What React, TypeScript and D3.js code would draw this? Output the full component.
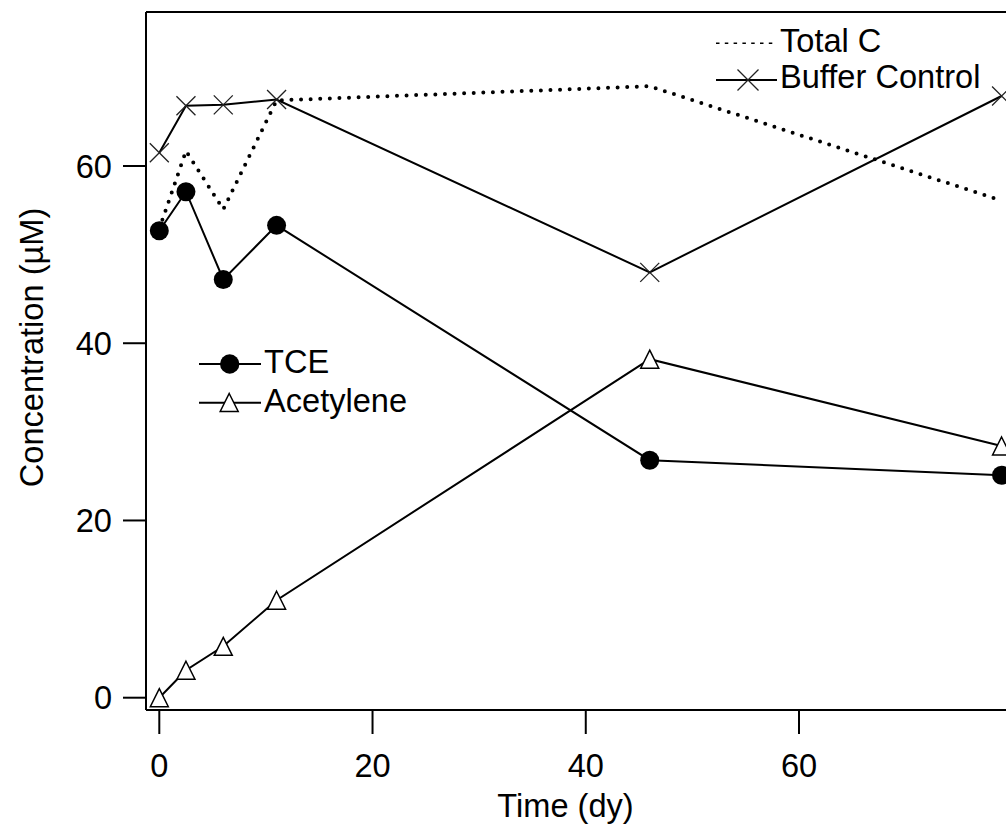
import React from "react";
import * as d3 from "d3";

const time = [0, 2.5, 6, 11, 46, 79];
const tce = [52.7, 57.1, 47.2, 53.3, 26.8, 25.1];
const acetylene = [0, 3.1, 5.8, 11.0, 38.2, 28.4];
const bufferControl = [61.5, 66.8, 66.9, 67.5, 48.0, 67.9];
const totalC = [52.9, 61.7, 55.1, 67.4, 69.0, 56.1];
const xTicks = [0, 20, 40, 60];
const yTicks = [0, 20, 40, 60];

const W = 1006;
const H = 824;
const FONT = "'Liberation Sans', Arial, Helvetica, sans-serif";
const FS = 32.6;

export default function App() {
  const x = d3.scaleLinear().domain([0, 60]).range([159.3, 799]);
  const y = d3.scaleLinear().domain([0, 60]).range([697.7, 166]);
  const left = 146;
  const top = 12;
  const bottom = 710;

  const line = d3
    .line<[number, number]>()
    .x((d) => x(d[0]))
    .y((d) => y(d[1]));
  const pts = (vals: number[]) => time.map((t, i) => [t, vals[i]] as [number, number]);

  const tri = (cx: number, cy: number, s = 9) =>
    `M${cx},${cy - s}L${cx + s},${cy + s}L${cx - s},${cy + s}Z`;
  const cross = (cx: number, cy: number, s = 10) =>
    `M${cx - s},${cy - s}L${cx + s},${cy + s}M${cx - s},${cy + s}L${cx + s},${cy - s}`;

  return (
    <svg
      width={W}
      height={H}
      style={{ position: "absolute", left: 0, top: 0, background: "#fff" }}
      fontFamily={FONT}
    >
      <rect x={0} y={0} width={W} height={H} fill="#fff" />
      {/* frame */}
      <line x1={left} y1={top} x2={W} y2={top} stroke="#000" strokeWidth={2} />
      <line x1={left} y1={top} x2={left} y2={bottom} stroke="#000" strokeWidth={2} />
      <line x1={left} y1={bottom} x2={W} y2={bottom} stroke="#000" strokeWidth={2} />

      {/* y ticks */}
      {yTicks.map((t) => (
        <g key={"y" + t}>
          <line x1={123} x2={left} y1={y(t)} y2={y(t)} stroke="#000" strokeWidth={2} />
          <text x={112} y={y(t) + 11.5} textAnchor="end" fontSize={FS} fill="#000">
            {t}
          </text>
        </g>
      ))}
      {/* x ticks */}
      {xTicks.map((t) => (
        <g key={"x" + t}>
          <line x1={x(t)} x2={x(t)} y1={bottom} y2={734} stroke="#000" strokeWidth={2} />
          <text x={x(t)} y={777} textAnchor="middle" fontSize={FS} fill="#000">
            {t}
          </text>
        </g>
      ))}

      {/* axis titles */}
      <text x={565.5} y={817} textAnchor="middle" fontSize={FS} fill="#000">
        Time (dy)
      </text>
      <text
        transform={`translate(43,347.5) rotate(-90)`}
        textAnchor="middle"
        fontSize={FS}
        fill="#000"
      >
        Concentration (µM)
      </text>

      {/* series lines */}
      <path d={line(pts(bufferControl)) || ""} fill="none" stroke="#000" strokeWidth={2} />
      <path d={line(pts(tce)) || ""} fill="none" stroke="#000" strokeWidth={2} />
      <path d={line(pts(acetylene)) || ""} fill="none" stroke="#000" strokeWidth={2} />
      <path
        d={line(pts(totalC)) || ""}
        fill="none"
        stroke="#000"
        strokeWidth={4}
        strokeLinecap="round"
        strokeDasharray="0 9.6"
      />

      {/* markers */}
      {time.map((t, i) => (
        <path key={"bc" + i} d={cross(x(t), y(bufferControl[i]), 9.5)} stroke="#222" strokeWidth={1.3} fill="none" />
      ))}
      {time.map((t, i) => (
        <circle key={"tc" + i} cx={x(t)} cy={y(tce[i])} r={9.5} fill="#000" />
      ))}
      {time.map((t, i) => (
        <path key={"ac" + i} d={tri(x(t), y(acetylene[i]))} fill="#fff" stroke="#000" strokeWidth={1.5} />
      ))}

      {/* legend top right */}
      <line x1={716} x2={777} y1={43.3} y2={43.3} stroke="#000" strokeWidth={1.6} strokeDasharray="3.5 5.3" />
      <text x={780} y={51.7} fontSize={FS} fill="#000">
        Total C
      </text>
      <line x1={716} x2={777} y1={80} y2={80} stroke="#000" strokeWidth={2} />
      <path d={cross(748, 80, 10.5)} stroke="#222" strokeWidth={1.3} fill="none" />
      <text x={780} y={88.3} fontSize={FS} fill="#000">
        Buffer Control
      </text>

      {/* legend left */}
      <line x1={199} x2={261} y1={364} y2={364} stroke="#000" strokeWidth={2} />
      <circle cx={229.7} cy={364} r={9.7} fill="#000" />
      <text x={264} y={373.3} fontSize={FS} fill="#000">
        TCE
      </text>
      <line x1={199} x2={261} y1={402.7} y2={402.7} stroke="#000" strokeWidth={2} />
      <path d={tri(229.2, 402.5)} fill="#fff" stroke="#000" strokeWidth={1.5} />
      <text x={264} y={411.7} fontSize={FS} fill="#000">
        Acetylene
      </text>
    </svg>
  );
}
